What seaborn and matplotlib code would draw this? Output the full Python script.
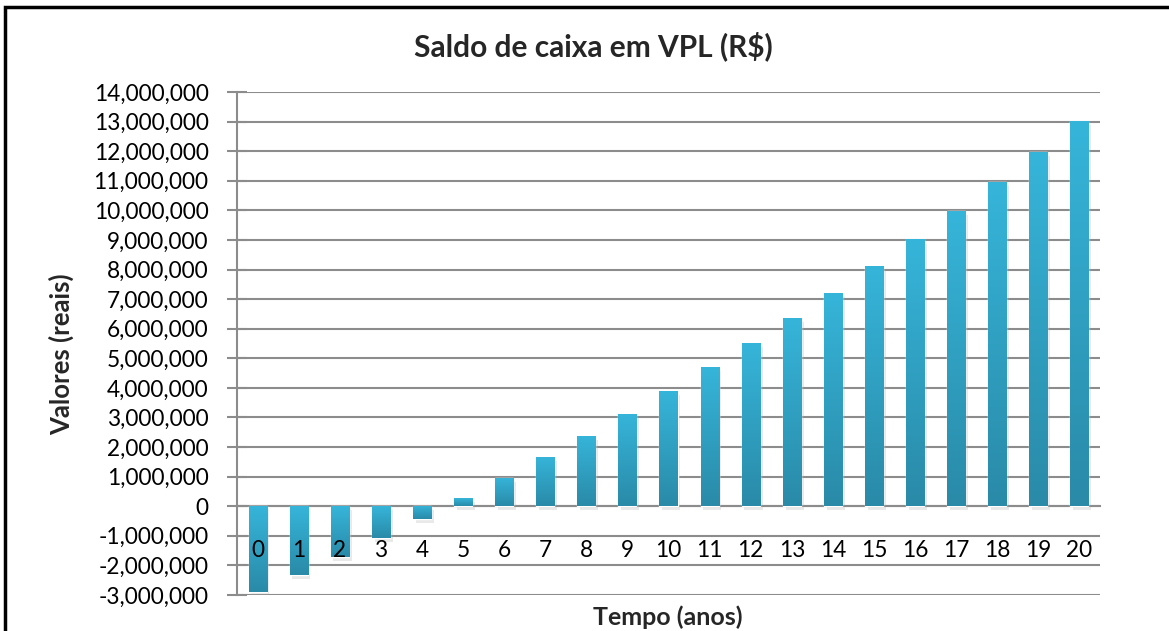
import numpy as np
import matplotlib.pyplot as plt
import matplotlib.patheffects as pe
import seaborn as sns
from matplotlib.colors import LinearSegmentedColormap
from matplotlib.patches import Rectangle
from matplotlib.ticker import FuncFormatter, FixedLocator

# Dados
anos = list(range(21))
saldo = [-2.91e6, -2.33e6, -1.71e6, -1.07e6, -0.44e6, 0.27e6, 0.95e6, 1.66e6,
         2.37e6, 3.11e6, 3.89e6, 4.70e6, 5.51e6, 6.36e6, 7.20e6, 8.12e6,
         9.02e6, 9.97e6, 10.97e6, 11.97e6, 13.01e6]
niveis_y = np.arange(-3e6, 14e6 + 1, 1e6)

titulo = "Saldo de caixa em VPL (R$)"
rotulo_y = "Valores (reais)"
rotulo_x = "Tempo (anos)"

sns.set_style("white")
plt.rcParams['font.family'] = ['Lato', 'DejaVu Sans']

fig, ax = plt.subplots(figsize=(11.69, 6.31), dpi=100)
fig.subplots_adjust(left=237/1169, right=1100/1169, top=1-92/631, bottom=1-595/631)

sns.barplot(x=anos, y=saldo, color="#33b0d4", width=0.44, ax=ax, zorder=2,
            saturation=1)

# gradiente nas barras
cmap = LinearSegmentedColormap.from_list("azul", ["#2a8aa8", "#36b5da"])
grad = np.linspace(0, 1, 256).reshape(-1, 1)
for p in list(ax.patches):
    x0, y0 = p.get_x(), p.get_y()
    w, h = p.get_width(), p.get_height()
    ylo, yhi = min(y0, y0 + h), max(y0, y0 + h)
    p.set_path_effects([pe.SimplePatchShadow(offset=(2, -3), shadow_rgbFace="#aaaaaa", alpha=0.25),
                        pe.Normal()])
    im = ax.imshow(grad, extent=[x0, x0 + w, ylo, yhi], origin="lower", cmap=cmap,
                   aspect="auto", zorder=2.1)
    im.set_clip_path(p)
ax.set_xlim(-0.5, 20.5)
ax.set_ylim(-3e6, 14e6)

# grade atras das barras
for v in niveis_y:
    ax.axhline(v, color="#8c8c8c", linewidth=1.5, zorder=0.5)

ax.yaxis.set_major_locator(FixedLocator(niveis_y))
ax.yaxis.set_major_formatter(FuncFormatter(lambda v, _: f"{v:,.0f}"))

for s in ["top", "right"]:
    ax.spines[s].set_visible(False)
ax.spines["left"].set_color("#8c8c8c")
ax.spines["left"].set_linewidth(1.5)
ax.spines["bottom"].set_position(("data", 0))
ax.spines["bottom"].set_color("#8c8c8c")
ax.spines["bottom"].set_linewidth(1.5)
ax.spines["bottom"].set_zorder(1)

ax.set_xticks(range(21))
ax.set_xticklabels([str(a) for a in anos])
ax.xaxis.set_minor_locator(FixedLocator(np.arange(-0.5, 21, 1)))
ax.tick_params(axis="x", which="major", length=0, pad=24, labelsize=16.3, colors="black")
ax.tick_params(axis="x", which="minor", length=6, width=1.5, color="#8c8c8c", direction="out")
ax.tick_params(axis="y", length=14, width=1.5, color="#8c8c8c", direction="inout", pad=13.5,
               labelsize=16.3, labelcolor="black", left=True)
ax.xaxis.set_zorder(5)
ax.set_xlabel("")
ax.set_ylabel("")

fig.text(593/1169, 1-46/631, titulo, ha="center", va="center", fontsize=21.5, fontweight="bold")
fig.text(61/1169, 1-354/631, rotulo_y, ha="center", va="center", rotation=90,
         fontsize=18.5, fontweight="bold")
fig.text(668/1169, 1-617/631, rotulo_x, ha="center", va="center", fontsize=18,
         fontweight="bold")

fig.patches.append(Rectangle((5/1169, -0.1), 1.2, 1.1-7/631, transform=fig.transFigure,
                             fill=False, edgecolor="black", linewidth=2.5))

fig.savefig("out.png", dpi=100)
